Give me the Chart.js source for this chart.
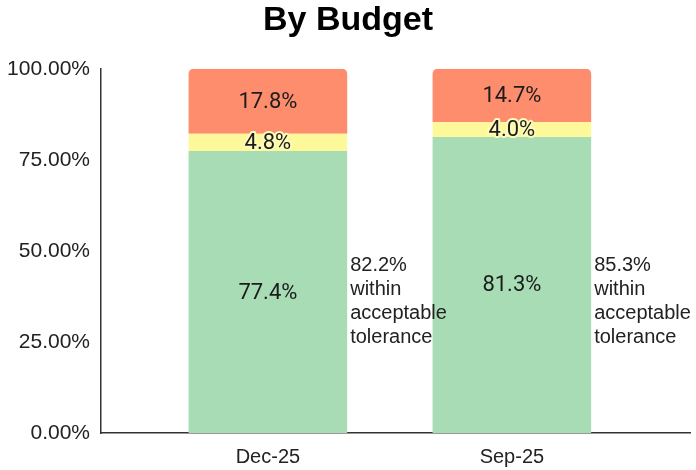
<!DOCTYPE html>
<html>
<head>
<meta charset="utf-8">
<script src="https://cdn.jsdelivr.net/npm/chart.js@4.4.1/dist/chart.umd.min.js"></script>
<style>
  html, body { margin: 0; padding: 0; background: #fff; }
  #wrap { width: 696px; height: 470px; }
</style>
</head>
<body>
<div id="wrap"><canvas id="chart_area"></canvas></div>
<script>
'use strict';

// Data
var categories = ['Dec-25', 'Sep-25'];
var withinValues = [77.4, 81.3];     // green
var nearValues = [4.8, 4.0];         // yellow
var outsideValues = [17.8, 14.7];    // orange
var toleranceLabels = ['82.2%', '85.3%'];
var toleranceText = ['within', 'acceptable', 'tolerance'];
var yTicks = [0, 25, 50, 75, 100];

function points(values){
    return values.map(function(v, i){ return { x: i, y: v }; });
}

// Draw the % value in the middle of each segment
var segmentLabels = {
    id: 'segmentLabels',
    afterDatasetsDraw: function(chart){
        var ctx = chart.ctx;
        ctx.save();
        ctx.font = '22px Roboto';
        ctx.textAlign = 'center';
        ctx.textBaseline = 'middle';
        chart.data.datasets.forEach(function(ds, di){
            var meta = chart.getDatasetMeta(di);
            meta.data.forEach(function(bar, i){
                var txt = ds.data[i].y.toFixed(1) + '%';
                var cy = (bar.y + bar.base) / 2;
                if(ds.halo){
                    ctx.strokeStyle = ds.halo;
                    ctx.lineWidth = 4;
                    ctx.lineJoin = 'round';
                    ctx.strokeText(txt, bar.x, cy + 1);
                }
                ctx.fillStyle = '#1c1c1c';
                ctx.fillText(txt, bar.x, cy + 1);
            });
        });
        ctx.restore();
    }
};

// "xx% within acceptable tolerance" next to each bar
var toleranceNote = {
    id: 'toleranceNote',
    afterDraw: function(chart){
        var ctx = chart.ctx;
        var meta = chart.getDatasetMeta(0);
        var y0 = chart.scales.y.getPixelForValue(46);
        ctx.save();
        ctx.font = '20px "Liberation Sans", Arial';
        ctx.fillStyle = '#222';
        ctx.textAlign = 'left';
        ctx.textBaseline = 'middle';
        meta.data.forEach(function(bar, i){
            var x = bar.x + bar.width / 2 + 3;
            var lines = [toleranceLabels[i]].concat(toleranceText);
            lines.forEach(function(line, k){
                ctx.fillText(line, x, y0 + k * 24);
            });
        });
        ctx.restore();
    }
};

var config = {
    type: 'bar',
    data: {
        datasets: [
            { label: 'Within', data: points(withinValues), backgroundColor: '#a8dcb5' },
            { label: 'Near', data: points(nearValues), backgroundColor: '#fdf99a', halo: '#fdfbb8' },
            { label: 'Outside', data: points(outsideValues), backgroundColor: '#fd8d6d',
              borderRadius: { topLeft: 5, topRight: 5, bottomLeft: 0, bottomRight: 0 } }
        ]
    },
    options: {
        responsive: true,
        maintainAspectRatio: false,
        animation: false,
        barPercentage: 0.65,
        categoryPercentage: 1.0,
        layout: { padding: { left: 6, right: 6, top: 0, bottom: 0 } },
        plugins: {
            legend: { display: false },
            tooltip: { enabled: false },
            title: {
                display: true,
                text: 'By Budget',
                color: '#000',
                font: { family: '"Liberation Sans", Arial', size: 34, weight: 'bold' },
                padding: { top: 0, bottom: 28 }
            }
        },
        scales: {
            x: {
                type: 'linear',
                stacked: true,
                offset: false,
                min: -0.684,
                max: 1.73,
                grid: { display: false, drawTicks: false, offset: false },
                border: { display: true, color: '#333', width: 1.5 },
                afterBuildTicks: function(scale){
                    scale.ticks = categories.map(function(c, i){ return { value: i }; });
                },
                afterFit: function(scale){ scale.height = 37; },
                ticks: {
                    padding: 12,
                    color: '#222',
                    font: { family: '"Liberation Sans", Arial', size: 20 },
                    callback: function(v){ return categories[v]; }
                }
            },
            y: {
                stacked: true,
                min: 0,
                max: 100,
                grid: { display: false, drawTicks: false },
                border: { display: true, color: '#333', width: 1.5 },
                afterBuildTicks: function(scale){
                    scale.ticks = yTicks.map(function(v){ return { value: v }; });
                },
                afterFit: function(scale){ scale.width = 95; },
                ticks: {
                    padding: 11,
                    color: '#222',
                    font: { family: '"Liberation Sans", Arial', size: 21 },
                    callback: function(v){ return v.toFixed(2) + '%'; }
                }
            }
        }
    },
    plugins: [segmentLabels, toleranceNote]
};

var ctx = document.getElementById('chart_area').getContext('2d');
window.myBar = new Chart(ctx, config);
</script>
</body>
</html>
